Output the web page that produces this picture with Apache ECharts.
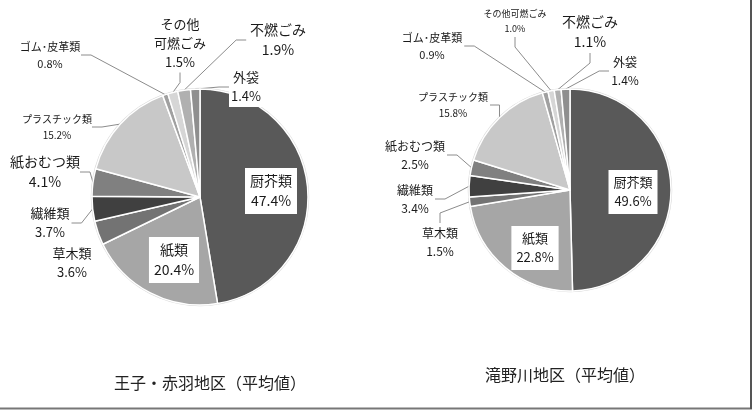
<!DOCTYPE html>
<html>
<head>
<meta charset="utf-8">
<script src="https://cdn.jsdelivr.net/npm/echarts@6/dist/echarts.min.js"></script>
<style>
    html, body {margin: 0; padding: 0; background: #fff;}
    #main {width: 755px; height: 420px;}
</style>
</head>
<body>
<div id="main"></div>
<script>
// 区分（時計回り、12時から）
let categories = ['厨芥類', '紙類', '草木類', '繊維類', '紙おむつ類', 'プラスチック類', 'ゴム･皮革類', 'その他可燃ごみ', '不燃ごみ', '外袋'];
let leftNames = ['厨芥類', '紙類', '草木類', '繊維類', '紙おむつ類', 'プラスチック類', 'ゴム･皮革類', 'その他\n可燃ごみ', '不燃ごみ', '外袋'];
let leftValues = [47.4, 20.4, 3.6, 3.7, 4.1, 15.2, 0.8, 1.5, 1.9, 1.4];
let rightValues = [49.6, 22.8, 1.5, 3.4, 2.5, 15.8, 0.9, 1.0, 1.1, 1.4];
let sliceColors = ['#595959', '#a6a6a6', '#737373', '#404040', '#808080', '#c8c8c8', '#a0a0a0', '#d6d6d6', '#b0b0b0', '#8f8f8f'];
let titles = ['王子・赤羽地区（平均値）', '滝野川地区（平均値）'];

// ラベル位置 [x, y]
let leftPos = [[271, 191], [174, 260], [72, 263], [50, 223], [45, 172], [57, 127], [50, 55], [180, 43], [278, 40], [246, 87]];
let rightPos = [[633, 192], [535, 248], [440, 242], [415, 199], [415, 155], [453, 105], [432, 46], [515, 21], [590, 32], [625, 71]];
let leftFont = [14, 14, 13, 13, 14, 10, 11, 13, 14, 13];
let rightFont = [13, 13, 12, 12, 12, 10, 11, 9, 14, 12];

function makeData(values, names, fonts) {
    return values.map(function (v, i) {
        let inside = i < 2;
        return {
            value: v,
            name: categories[i],
            itemStyle: {color: sliceColors[i]},
            label: {
                show: true,
                position: inside ? 'inside' : 'outside',
                formatter: names[i] + '\n' + v.toFixed(1) + '%',
                fontSize: fonts[i],
                lineHeight: fonts[i] + 6,
                backgroundColor: inside || i === 9 ? '#fff' : 'transparent',
                padding: inside ? [3, 5] : [1, 2]
            },
            labelLine: {show: !inside && !(names === leftNames && i === 2)}
        };
    });
}

function pieSeries(values, names, fonts, center, radius, pos) {
    return {
        type: 'pie',
        center: center,
        radius: radius,
        startAngle: 90,
        clockwise: true,
        silent: true,
        data: makeData(values, names, fonts),
        itemStyle: {borderColor: '#fff', borderWidth: 1.5},
        label: {
            color: '#1a1a1a',
            fontFamily: 'Noto Sans CJK JP',
            align: 'center',
            overflow: 'none'
        },
        labelLine: {
            length: 10,
            length2: 10,
            lineStyle: {color: '#8c8c8c', width: 1}
        },
        labelLayout: function (params) {
            let p = pos[params.dataIndex];
            return {x: p[0], y: p[1], align: 'center', verticalAlign: 'middle'};
        }
    };
}

let myChart = echarts.init(document.getElementById('main'));
let option = {
    backgroundColor: '#fff',
    animation: false,
    title: [
        {
            text: titles[0], left: 205, top: 370, textAlign: 'center',
            textStyle: {fontSize: 16, fontWeight: 'normal', color: '#222', fontFamily: 'Noto Sans CJK JP'}
        },
        {
            text: titles[1], left: 560, top: 362, textAlign: 'center',
            textStyle: {fontSize: 16, fontWeight: 'normal', color: '#222', fontFamily: 'Noto Sans CJK JP'}
        }
    ],
    graphic: [
        {type: 'line', shape: {x1: 0, y1: 408.5, x2: 752, y2: 408.5}, style: {stroke: '#777', lineWidth: 2}},
        {type: 'line', shape: {x1: 751, y1: 0, x2: 751, y2: 409}, style: {stroke: '#555', lineWidth: 2}},
        {type: 'circle', shape: {cx: 200, cy: 197, r: 108.5}, style: {fill: 'none', stroke: '#d9d9d9', lineWidth: 1.5}, z: -1},
        {type: 'circle', shape: {cx: 570, cy: 190, r: 101.5}, style: {fill: 'none', stroke: '#d9d9d9', lineWidth: 1.5}, z: -1}
    ],
    series: [
        pieSeries(leftValues, leftNames, leftFont, [200, 197], 108, leftPos),
        pieSeries(rightValues, categories, rightFont, [570, 190], 101, rightPos)
    ]
};
myChart.setOption(option);
</script>
</body>
</html>
